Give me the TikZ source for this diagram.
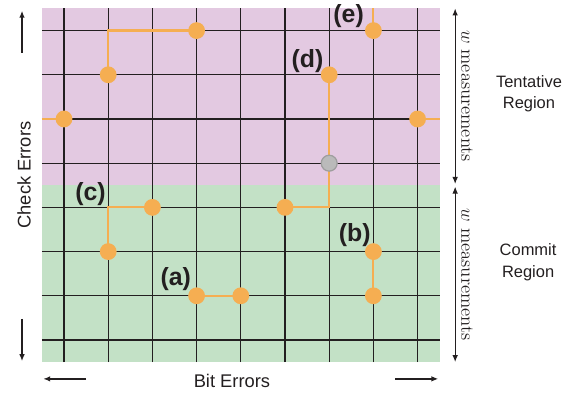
\documentclass[tikz,border=0pt]{standalone}
\usepackage{fontspec}
\setsansfont{Liberation Sans}
\usepackage{xcolor}
\usetikzlibrary{arrows.meta}
\definecolor{tentpink}{HTML}{E3C9E1}
\definecolor{commitgreen}{HTML}{C3E1C6}
\definecolor{errorange}{HTML}{F5AE52}
\definecolor{inkgray}{HTML}{231F20}

\begin{document}
\begin{tikzpicture}[>={Latex[length=4.5pt,width=3.6pt]},
  dot/.style={circle,fill=errorange,inner sep=0pt,minimum size=0.38cm},
  graydot/.style={circle,fill=black!27,draw=black!38,line width=0.8pt,inner sep=0pt,minimum size=0.36cm},
  chain/.style={errorange,line width=1.4pt},
  tag/.style={font=\sffamily\bfseries\fontsize{16}{19}\selectfont,text=inkgray,inner sep=0pt},
  axis/.style={->,inkgray,line width=1pt},
  side/.style={<->,inkgray,line width=0.7pt},
  lbl/.style={font=\sffamily\fontsize{11.8}{14}\selectfont,text=inkgray},
  region/.style={font=\sffamily\fontsize{10.6}{13.6}\selectfont,text=inkgray,align=center},
  meas/.style={font=\fontsize{12}{14}\selectfont,text=inkgray,rotate=-90}]
  \useasboundingbox (-1.448,-1.199) rectangle (11.584,7.692);

  % regions and lattice
  \fill[tentpink] (-0.5,3.5) rectangle (8.5,7.5);
  \fill[commitgreen] (-0.5,-0.5) rectangle (8.5,3.5);
  \foreach \x in {0,...,8}
    \draw[inkgray,line width=0.8pt] (\x,-0.5) -- (\x,7.5);
  \foreach \y in {0,...,7}
    \draw[inkgray,line width=0.8pt] (-0.5,\y) -- (8.5,\y);

  % error chains
  \coordinate (wl) at (-0.5,5);
  \coordinate (wr) at (8.5,5);
  \coordinate (et) at (7,7.5);
  \draw[chain] (1,6) |- (3,7);
  \draw[chain] (0,5) -- (wl);
  \draw[chain] (8,5) -- (wr);
  \draw[chain] (7,7) -- (et);
  \draw[chain] (6,6) -- (6,4) |- (5,3);
  \draw[chain] (2,3) -| (1,2);
  \draw[chain] (3,1) -- (4,1);
  \draw[chain] (7,2) -- (7,1);

  \node[dot] (t1) at (1,6) {};
  \node[dot] (t2) at (3,7) {};
  \node[dot] (wa) at (0,5) {};
  \node[dot] (wb) at (8,5) {};
  \node[dot] (e1) at (7,7) {};
  \node[dot] (d1) at (6,6) {};
  \node[graydot] (g1) at (6,4) {};
  \node[dot] (d2) at (5,3) {};
  \node[dot] (c1) at (2,3) {};
  \node[dot] (c2) at (1,2) {};
  \node[dot] (a1) at (3,1) {};
  \node[dot] (a2) at (4,1) {};
  \node[dot] (b1) at (7,2) {};
  \node[dot] (b2) at (7,1) {};

  \node[tag] (la) at (2.53,1.38) {(a)};
  \node[tag] (lb) at (6.58,2.38) {(b)};
  \node[tag] (lc) at (0.60,3.29) {(c)};
  \node[tag] (ld) at (5.51,6.31) {(d)};
  \node[tag] (le) at (6.44,7.33) {(e)};

  % axes
  \coordinate (up0) at (-0.95,6.5);
  \coordinate (up1) at (-0.95,7.45);
  \coordinate (dn0) at (-0.95,0.48);
  \coordinate (dn1) at (-0.95,-0.48);
  \coordinate (lf0) at (0.5,-0.88);
  \coordinate (lf1) at (-0.47,-0.88);
  \coordinate (rt0) at (7.5,-0.88);
  \coordinate (rt1) at (8.47,-0.88);
  \draw[axis] (up0) -- (up1);
  \draw[axis] (dn0) -- (dn1);
  \draw[axis] (lf0) -- (lf1);
  \draw[axis] (rt0) -- (rt1);
  \node[lbl,rotate=90] (check) at (-0.905,3.73) {Check Errors};
  \node[lbl] (bit) at (3.80,-0.93) {Bit Errors};

  % measurement windows
  \coordinate (s0) at (8.85,7.5);
  \coordinate (s1) at (8.85,3.53);
  \coordinate (s2) at (8.85,3.47);
  \coordinate (s3) at (8.85,-0.5);
  \draw[side] (s0) -- (s1);
  \draw[side] (s2) -- (s3);
  \node[meas] (m1) at (9.12,5.52) {$w$ measurements};
  \node[meas] (m2) at (9.12,1.48) {$w$ measurements};
  \node[region] (tent) at (10.52,5.58) {Tentative\\Region};
  \node[region] (comm) at (10.50,1.76) {Commit\\Region};
\end{tikzpicture}
\end{document}
